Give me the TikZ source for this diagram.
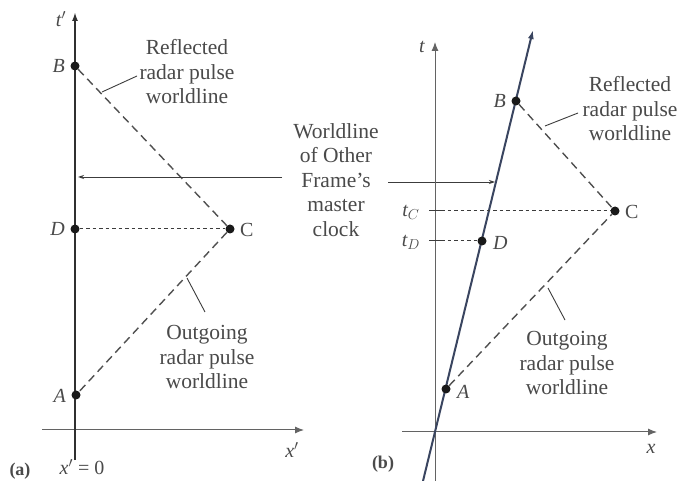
\documentclass[tikz,border=0pt]{standalone}
\usepackage{fontspec}
\setmainfont{Liberation Serif}
\usetikzlibrary{arrows.meta}
\definecolor{ink}{HTML}{3C3C3C}
\definecolor{txt}{HTML}{4A4A4A}
\definecolor{wl}{HTML}{3A4560}
\tikzset{
  dot/.style={circle, fill=black!90, inner sep=0pt, minimum size=9pt},
  lbl/.style={text=txt, font=\fontsize{21.5}{24.5}\selectfont, align=center, inner sep=0pt},
  pt/.style={text=txt, font=\fontsize{20}{24}\selectfont\itshape, inner sep=0pt},
  axis/.style={draw=ink!80, line width=1pt, -{Latex[length=9pt,width=7pt]}},
  world/.style={line width=2.4pt, -{Latex[length=9pt,width=6pt]}},
  pulse/.style={draw=ink!90, line width=1.4pt, dash pattern=on 8pt off 5pt},
  dotln/.style={draw=ink, line width=1pt, dash pattern=on 3.5pt off 3pt},
  leader/.style={draw=ink, line width=0.9pt},
  leadarr/.style={draw=ink, line width=0.9pt, -{Stealth[length=6pt,width=4pt]}}
}
\begin{document}
\begin{tikzpicture}[x=1pt,y=-1pt]
\useasboundingbox[fill=white] (0,0) rectangle (689,481);
% ---------- panel (a) ----------
\coordinate (xa0) at (42,430);
\coordinate (xa1) at (304,430);
\coordinate (wa0) at (75,460);
\coordinate (wa1) at (75,12);
\draw[axis] (xa0) -- (xa1);
\draw[world, draw=ink!80!black, color=ink!80!black] (wa0) -- (wa1);
\node[dot] (B1) at (75,66) {};
\node[dot] (D1) at (75,229) {};
\node[dot] (C1) at (230,229) {};
\node[dot] (A1) at (76,395) {};
\draw[pulse] (B1) -- (C1);
\draw[pulse] (C1) -- (A1);
\draw[dotln] (D1) -- (C1);
\node[pt, anchor=east] (lB1) at (65,66) {B};
\node[pt, anchor=east] (lD1) at (65,229) {D};
\node[pt, anchor=west] (lC1) at (240,230) {\upshape C};
\node[pt, anchor=east] (lA1) at (66,396) {A};
\node[pt] (ltp) at (61,19) {t$'$};
\node[pt] (lxp) at (292,450) {x$'$};
\node[lbl, font=\fontsize{18}{20}\selectfont\bfseries] (pa) at (20,471) {(a)};
\node[lbl, font=\fontsize{20}{24}\selectfont] (x0) at (82,467) {\itshape x$'$\upshape\ = 0};
\node[lbl] (refa) at (187,72) {Reflected\\radar pulse\\worldline};
\coordinate (refaE) at (102,92);
\draw[leader] (137,76) -- (refaE);
\node[lbl] (outa) at (207,357) {Outgoing\\radar pulse\\worldline};
\coordinate (outaE) at (187,278);
\draw[leader] (205,312) -- (outaE);
% ---------- middle label ----------
\node[lbl] (wlab) at (336,180) {Worldline\\of Other\\Frame's\\master\\clock};
\coordinate (wlA) at (78,177);
\coordinate (wlB) at (495,182);
\draw[leadarr] (282,177) -- (wlA);
\draw[leadarr] (388,182) -- (wlB);
% ---------- panel (b) ----------
\coordinate (tb0) at (435,481);
\coordinate (tb1) at (435,42);
\coordinate (xb0) at (402,432);
\coordinate (xb1) at (657,432);
\draw[axis] (tb0) -- (tb1);
\draw[axis] (xb0) -- (xb1);
\coordinate (wb0) at (423,481);
\coordinate (wb1) at (533,30);
\draw[world, draw=wl, color=wl, line width=2pt] (wb0) -- (wb1);
\node[dot] (B2) at (516,101) {};
\node[dot] (D2) at (482,241) {};
\node[dot] (A2) at (446,389) {};
\node[dot] (C2) at (615,211) {};
\coordinate (tC) at (435,211);
\coordinate (tD) at (435,241);
\draw[ink, line width=1pt] (429,211) -- (441,211);
\draw[ink, line width=1pt] (429,241) -- (441,241);
\draw[pulse] (B2) -- (C2);
\draw[pulse] (A2) -- (C2);
\draw[dotln] (tC) ++(6,0) -- (C2);
\draw[dotln] (tD) ++(6,0) -- (D2);
\node[pt, anchor=east] (lB2) at (506,101) {B};
\node[pt, anchor=west] (lD2) at (493,243) {D};
\node[pt, anchor=west] (lC2) at (625,212) {\upshape C};
\node[pt, anchor=west] (lA2) at (457,392) {A};
\node[pt] (lt) at (422,47) {t};
\node[pt] (ltC) at (411,212) {t$_C$};
\node[pt] (ltD) at (411,242) {t$_D$};
\node[pt] (lx) at (651,449) {x};
\node[lbl, font=\fontsize{18}{20}\selectfont\bfseries] (pb) at (383,464) {(b)};
\node[lbl] (refb) at (630,109) {Reflected\\radar pulse\\worldline};
\coordinate (refbE) at (545,126);
\draw[leader] (578,113) -- (refbE);
\node[lbl] (outb) at (567,363) {Outgoing\\radar pulse\\worldline};
\coordinate (outbE) at (548,288);
\draw[leader] (565,320) -- (outbE);
\end{tikzpicture}
\end{document}
